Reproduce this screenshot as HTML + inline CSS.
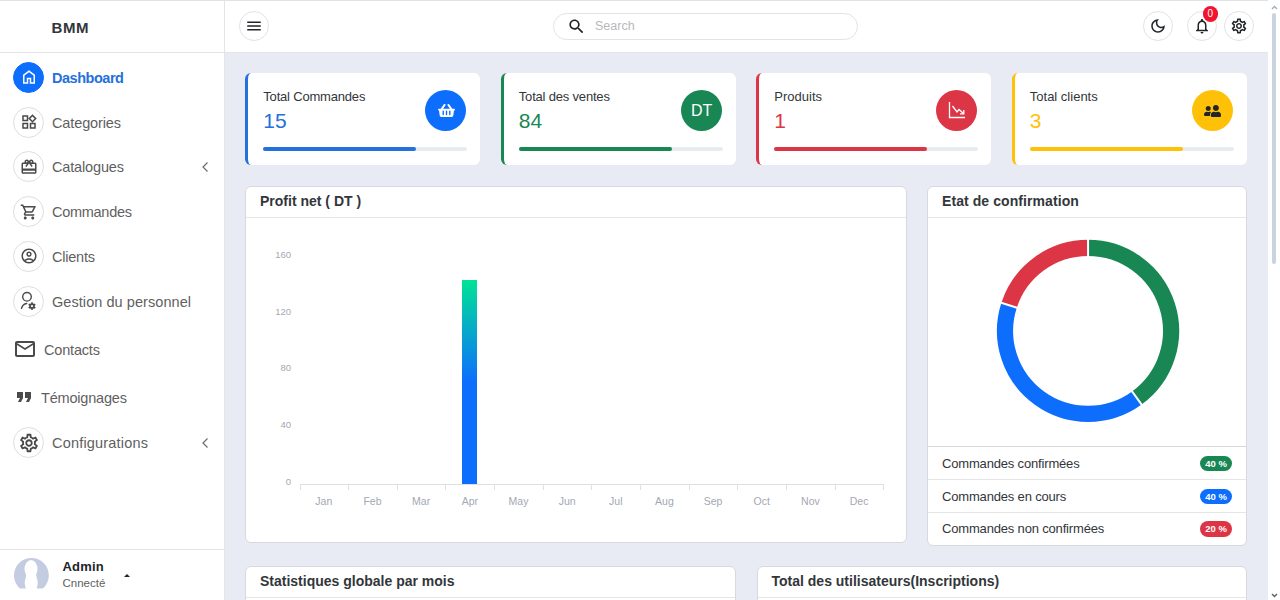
<!DOCTYPE html>
<html><head><meta charset="utf-8">
<style>
*{box-sizing:border-box;margin:0;padding:0}
html,body{width:1280px;height:600px;overflow:hidden;background:#e8ebf3;font-family:"Liberation Sans",sans-serif;color:#212529}
body{position:relative}
.abs{position:absolute}
#side{left:0;top:0;width:225px;height:600px;background:#fff;border-right:1px solid #e4e4e4}
#brand{left:0;top:0;width:224px;height:53px;border-bottom:1px solid #e4e4e4}
#brand span{position:absolute;left:51.5px;top:18.5px;font-size:15px;font-weight:700;color:#32363a;letter-spacing:0.6px}
.mi{position:absolute;left:13px;width:31px;height:31px;border-radius:50%;border:1px solid #dedede;background:#fff}
.mi svg{position:absolute;left:5.5px;top:5.5px;width:18px;height:18px;fill:#4a4a4a}
.mi.act{background:#0d6efd;border-color:#0d6efd}
.mi.act svg{fill:#fff}
.ml{position:absolute;left:52px;font-size:14.5px;color:#5f5f5f;letter-spacing:0;white-space:nowrap}
.ml.act{color:#2470dc;font-weight:700}
#top{left:225px;top:0;width:1043px;height:53px;background:#fff;border-bottom:1px solid #e4e4e4}
.rb{position:absolute;width:30px;height:30px;border-radius:50%;border:1px solid #e2e2e2;background:#fff}
.rb svg{position:absolute;left:5px;top:5px;width:17px;height:17px;fill:#212529}
.card{position:absolute;background:#fff;border-radius:6px}
.ct{position:absolute;left:17px;top:16px;font-size:13px;color:#32363a}
.cv{position:absolute;left:17px;top:36px;font-size:21px}
.pb{position:absolute;left:17px;top:74px;width:204px;height:4px;border-radius:2px;background:#e9ecef}
.pb i{display:block;width:153px;height:4px;border-radius:2px}
.ic{position:absolute;left:179px;top:17px;width:41.400px;height:41.400px;border-radius:50%}
.pan{position:absolute;background:#fff;border:1px solid #d6d9df;border-radius:6px}
.ph{position:absolute;left:14px;top:5.800px;font-size:14px;font-weight:700;color:#32363a;white-space:nowrap}
.hl{position:absolute;left:0;right:0;height:1px;background:#e6e6e6}
.yl{position:absolute;font-size:9.500px;color:#a3a8b3;text-align:right;width:30px}
.xl{position:absolute;font-size:10.500px;color:#a3a8b3;text-align:center;width:40px;top:309px}
.row{position:absolute;left:14.500px;font-size:13px;color:#32363a;letter-spacing:-0.170px;white-space:nowrap}
.bd{position:absolute;left:272.400px;width:32.400px;height:15.500px;border-radius:8px;color:#fff;font-size:9.500px;font-weight:700;text-align:center;line-height:15.500px}
</style></head><body>

<div id="side" class="abs"></div>
<div id="brand" class="abs"><span>BMM</span></div>
<!--SIDE-->
<div class="mi act" style="top:61.75px"><svg viewBox="0 0 24 24"><path d="M6 19h3v-6h6v6h3v-9l-6-4.5L6 10Zm-2 2V9l8-6 8 6v12h-7v-6h-2v6Z"/></svg></div><div class="ml act" id="l_home" style="letter-spacing:-0.47px;top:69.75px">Dashboard</div>
<div class="mi" style="top:106.5px"><svg viewBox="0 0 24 24"><path d="M16.66 4.52l2.83 2.83-2.83 2.83-2.83-2.83 2.83-2.83M9 5v4H5V5h4m10 10v4h-4v-4h4M9 15v4H5v-4h4m7.66-13.31L11 7.34 16.66 13l5.66-5.66-5.66-5.65zM11 3H3v8h8V3zm10 10h-8v8h8v-8zm-10 0H3v8h8v-8z"/></svg></div><div class="ml" id="l_widgets" style="letter-spacing:-0.12px;top:114.5px">Categories</div>
<div class="mi" style="top:151.25px"><svg viewBox="0 0 24 24"><path d="M20 6h-2.18c.11-.31.18-.65.18-1 0-1.66-1.34-3-3-3-1.05 0-1.96.54-2.5 1.35l-.5.67-.5-.68C10.96 2.54 10.05 2 9 2 7.34 2 6 3.34 6 5c0 .35.07.69.18 1H4c-1.11 0-1.99.89-1.99 2L2 19c0 1.11.89 2 2 2h16c1.11 0 2-.89 2-2V8c0-1.11-.89-2-2-2zm-5-2c.55 0 1 .45 1 1s-.45 1-1 1-1-.45-1-1 .45-1 1-1zM9 4c.55 0 1 .45 1 1s-.45 1-1 1-1-.45-1-1 .45-1 1-1zm11 15H4v-2h16v2zm0-5H4V8h5.08L7 10.83 8.62 12 11 8.76l1-1.36 1 1.36L15.38 12 17 10.83 14.92 8H20v6z"/></svg></div><div class="ml" id="l_gift" style="letter-spacing:-0.15px;top:159.25px">Catalogues</div>
<div class="mi" style="top:196.0px"><svg viewBox="0 0 24 24"><path d="M15.55 13c.75 0 1.41-.41 1.75-1.03l3.58-6.49c.37-.66-.11-1.48-.87-1.48H5.21l-.94-2H1v2h2l3.6 7.59-1.35 2.44C4.52 15.37 5.48 17 7 17h12v-2H7l1.1-2h7.45zM6.16 6h12.15l-2.76 5H8.53L6.16 6zM7 18c-1.1 0-1.99.9-1.99 2S5.9 22 7 22s2-.9 2-2-.9-2-2-2zm10 0c-1.1 0-1.99.9-1.99 2s.89 2 1.99 2 2-.9 2-2-.9-2-2-2z"/></svg></div><div class="ml" id="l_cart" style="letter-spacing:-0.28px;top:204.0px">Commandes</div>
<div class="mi" style="top:240.75px"><svg viewBox="0 0 24 24"><path d="M12 2C6.48 2 2 6.48 2 12s4.48 10 10 10 10-4.48 10-10S17.52 2 12 2zM7.35 18.5C8.66 17.56 10.26 17 12 17s3.34.56 4.650 1.5C15.34 19.44 13.74 20 12 20s-3.34-.56-4.65-1.5zm10.79-1.380C16.45 15.8 14.32 15 12 15s-4.45.8-6.14 2.12C4.7 15.73 4 13.95 4 12c0-4.42 3.58-8 8-8s8 3.58 8 8c0 1.950-.7 3.73-1.86 5.120zM12 6c-1.93 0-3.5 1.57-3.5 3.5S10.07 13 12 13s3.5-1.57 3.5-3.5S13.93 6 12 6zm0 5c-.83 0-1.5-.67-1.5-1.5S11.17 8 12 8s1.500.67 1.5 1.5S12.83 11 12 11z"/></svg></div><div class="ml" id="l_acct" style="letter-spacing:-0.22px;top:248.75px">Clients</div>
<div class="mi" style="top:285.5px"><svg viewBox="0 0 29 29" style="left:0;top:0;width:29px;height:29px"><circle cx="13" cy="9.800" r="4.300" fill="none" stroke="#4a4a4a" stroke-width="1.400"/><path d="M12.700 16.500 Q8.600 17 7.500 21.400" fill="none" stroke="#4a4a4a" stroke-width="1.400" stroke-linecap="round"/><g transform="translate(18,19.100)" fill="#4a4a4a"><circle r="2" fill="none" stroke="#4a4a4a" stroke-width="1.700"/><rect x="-0.850" y="-3.800" width="1.700" height="1.600" transform="rotate(0)"/><rect x="-0.850" y="-3.800" width="1.700" height="1.600" transform="rotate(60)"/><rect x="-0.850" y="-3.800" width="1.700" height="1.600" transform="rotate(120)"/><rect x="-0.850" y="-3.800" width="1.700" height="1.600" transform="rotate(180)"/><rect x="-0.850" y="-3.800" width="1.700" height="1.600" transform="rotate(240)"/><rect x="-0.850" y="-3.800" width="1.700" height="1.600" transform="rotate(300)"/></g></svg></div><div class="ml" id="l_manage" style="letter-spacing:0.06px;top:293.5px">Gestion du personnel</div>
<div class="mi" style="top:427.0px"><svg viewBox="0 0 24 24" style="left:3.500px;top:3.500px;width:22px;height:22px"><path d="M19.43 12.98c.04-.32.07-.64.07-.98 0-.34-.03-.66-.07-.98l2.110-1.650c.19-.15.24-.42.12-.64l-2-3.460c-.09-.16-.26-.25-.44-.25-.06 0-.12.01-.17.03l-2.490 1c-.52-.4-1.080-.73-1.690-.98l-.38-2.650C14.460 2.180 14.250 2 14 2h-4c-.25 0-.46.18-.49.42l-.38 2.650c-.61.25-1.170.59-1.690.98l-2.490-1c-.06-.02-.12-.03-.18-.03-.17 0-.34.09-.43.25l-2 3.460c-.13.22-.07.49.12.64l2.110 1.650c-.04.32-.07.65-.07.98 0 .33.03.66.07.98l-2.110 1.650c-.19.15-.24.42-.12.64l2 3.460c.09.16.26.25.44.25.06 0 .12-.01.17-.03l2.490-1c.52.4 1.080.73 1.690.98l.38 2.650c.03.24.24.42.49.42h4c.25 0 .46-.18.49-.42l.38-2.650c.61-.25 1.170-.59 1.690-.98l2.490 1c.06.02.12.03.18.03.17 0 .34-.09.43-.25l2-3.460c.12-.22.07-.49-.12-.64l-2.110-1.650zm-1.980-1.710c.04.31.05.52.05.73 0 .21-.02.43-.05.73l-.14 1.130.89.7 1.080.84-.7 1.210-1.270-.51-1.040-.42-.9.68c-.43.32-.84.56-1.250.73l-1.060.43-.16 1.130-.2 1.350h-1.400l-.19-1.350-.16-1.130-1.060-.43c-.43-.18-.83-.41-1.230-.71l-.91-.7-1.060.43-1.270.51-.7-1.210 1.080-.84.89-.7-.14-1.130c-.03-.31-.05-.54-.05-.74s.02-.43.05-.73l.14-1.130-.89-.7-1.080-.84.7-1.210 1.270.51 1.040.42.9-.68c.43-.32.84-.56 1.250-.73l1.060-.43.16-1.130.2-1.350h1.390l.19 1.350.16 1.130 1.060.43c.43.18.83.41 1.230.71l.91.7 1.060-.43 1.270-.51.7 1.210-1.070.85-.89.7.14 1.130zM12 8c-2.210 0-4 1.790-4 4s1.790 4 4 4 4-1.790 4-4-1.790-4-4-4zm0 6c-1.100 0-2-.9-2-2s.9-2 2-2 2 .9 2 2-.9 2-2 2z"/></svg></div><div class="ml" id="l_gear" style="letter-spacing:0.19px;top:435.0px">Configurations</div>
<svg class="abs" style="left:13px;top:337px;width:24px;height:24px;fill:#4a4a4a" viewBox="0 0 24 24"><path d="M20 4H4c-1.1 0-1.990.9-1.990 2L2 18c0 1.100.9 2 2 2h16c1.1 0 2-.9 2-2V6c0-1.100-.9-2-2-2zm0 14H4V8l8 5 8-5v10zm-8-7L4 6h16l-8 5z"/></svg><div class="ml" id="l_mail" style="letter-spacing:-0.18px;left:44px;top:341.5px">Contacts</div>
<svg class="abs" style="left:12px;top:385px;width:24px;height:24px;fill:#4a4a4a" viewBox="0 0 24 24"><path d="M6 17h3l2-4V7H5v6h3zm8 0h3l2-4V7h-6v6h3z"/></svg><div class="ml" id="l_quote" style="letter-spacing:-0.19px;left:41px;top:389.5px">Témoignages</div>
<svg class="abs" style="left:201px;top:160.75px;width:8px;height:12px" viewBox="0 0 8 12"><path d="M6.5 1.5 L2 6 L6.500 10.500" fill="none" stroke="#6c6c6c" stroke-width="1.200"/></svg>
<svg class="abs" style="left:201px;top:436.5px;width:8px;height:12px" viewBox="0 0 8 12"><path d="M6.5 1.5 L2 6 L6.500 10.500" fill="none" stroke="#6c6c6c" stroke-width="1.200"/></svg>
<div class="abs" style="left:0;top:549px;width:224px;height:1px;background:#e4e4e4"></div>
<svg class="abs" style="left:14px;top:558px;width:35px;height:35px" viewBox="0 0 35 35"><circle cx="17.400" cy="17.400" r="17.400" fill="#c3cce0"/><ellipse cx="17" cy="11" rx="6.500" ry="9" fill="#fff"/><path d="M12.500 14 C12.500 20 10 22 11 27 C11.500 29 12 30 12 35 H22.500 C22.500 30 23 29 23.500 27 C24.500 22 22 20 22 14Z" fill="#fff"/><rect x="0" y="30.500" width="35" height="5" fill="#fff"/></svg>
<div class="abs" style="left:62.500px;top:559.400px;font-size:13px;font-weight:700;color:#212529;letter-spacing:0.200px">Admin</div>
<div class="abs" style="left:62.500px;top:577px;font-size:11.500px;color:#5f5f5f">Cnnecté</div>
<div class="abs" style="left:123.800px;top:574px;width:0;height:0;border-left:3.200px solid transparent;border-right:3.200px solid transparent;border-bottom:3.200px solid #212529"></div>
<!--/SIDE-->
<div id="top" class="abs"></div>
<!--TOP-->
<div class="abs" style="left:0;top:0;width:1280px;height:1px;background:#dfe3e8"></div>
<div class="rb" style="left:238.5px;top:11px"><svg style="left:5px;top:5px;width:18px;height:18px" viewBox="0 0 24 24"><path d="M3 18h18v-2H3v2zm0-5h18v-2H3v2zm0-7v2h18V6H3z"/></svg></div>
<div class="abs" style="left:553px;top:13px;width:305px;height:27px;border:1px solid #e3e3e3;border-radius:14px;background:#fff"></div>
<svg class="abs" style="left:567px;top:16.500px;width:19px;height:19px;fill:#212529" viewBox="0 0 24 24"><path d="M15.5 14h-.79l-.28-.27C15.41 12.59 16 11.11 16 9.5 16 5.91 13.09 3 9.5 3S3 5.91 3 9.5 5.91 16 9.5 16c1.61 0 3.09-.59 4.23-1.570l.27.28v.79l5 4.990L20.49 19l-4.990-5zm-6 0C7.01 14 5 11.99 5 9.5S7.01 5 9.5 5 14 7.01 14 9.5 11.99 14 9.5 14z"/></svg>
<div class="abs" style="left:595px;top:19px;font-size:12.500px;color:#b6b8bc">Search</div>
<div class="rb" style="left:1142.5px;top:11px"><svg style="left:5px;top:5px;width:18px;height:18px" viewBox="0 0 24 24"><path d="M9.37 5.51c-.18.64-.27 1.31-.27 1.99 0 4.08 3.32 7.4 7.4 7.4.68 0 1.35-.09 1.99-.27C17.45 17.19 14.93 19 12 19c-3.86 0-7-3.14-7-7 0-2.93 1.81-5.45 4.37-6.49zM12 3c-4.97 0-9 4.03-9 9s4.030 9 9 9 9-4.03 9-9c0-.46-.04-.92-.1-1.360-.98 1.370-2.580 2.260-4.400 2.260-2.980 0-5.400-2.420-5.400-5.400 0-1.810.89-3.420 2.260-4.400-.44-.06-.9-.1-1.360-.1z"/></svg></div>
<div class="rb" style="left:1186.5px;top:11px"><svg style="left:5px;top:5px;width:18px;height:18px" viewBox="0 0 24 24"><path d="M12 22c1.1 0 2-.9 2-2h-4c0 1.100.9 2 2 2zm6-6v-5c0-3.070-1.630-5.640-4.500-6.320V4c0-.83-.67-1.500-1.500-1.500s-1.500.67-1.500 1.500v.68C7.640 5.360 6 7.920 6 11v5l-2 2v1h16v-1l-2-2zm-2 1H8v-6c0-2.480 1.510-4.500 4-4.500s4 2.020 4 4.500v6z"/></svg></div>
<div class="rb" style="left:1223.5px;top:11px"><svg style="left:5px;top:5px;width:18px;height:18px" viewBox="0 0 24 24"><path d="M19.43 12.98c.04-.32.07-.64.07-.98 0-.34-.03-.66-.07-.98l2.110-1.650c.19-.15.24-.42.12-.64l-2-3.460c-.09-.16-.26-.25-.44-.25-.06 0-.12.01-.17.03l-2.490 1c-.52-.4-1.080-.73-1.690-.98l-.38-2.650C14.460 2.180 14.250 2 14 2h-4c-.25 0-.46.18-.49.42l-.38 2.650c-.61.25-1.170.59-1.690.98l-2.490-1c-.06-.02-.12-.03-.18-.03-.17 0-.34.09-.43.25l-2 3.460c-.13.22-.07.49.12.64l2.110 1.650c-.04.32-.07.65-.07.98 0 .33.03.66.07.98l-2.110 1.650c-.19.15-.24.42-.12.64l2 3.460c.09.16.26.25.44.25.06 0 .12-.01.17-.03l2.490-1c.52.4 1.080.73 1.690.98l.38 2.650c.03.24.24.42.49.42h4c.25 0 .46-.18.49-.42l.38-2.650c.61-.25 1.170-.59 1.690-.98l2.490 1c.06.02.12.03.18.03.17 0 .34-.09.43-.25l2-3.460c.12-.22.07-.49-.12-.64l-2.110-1.650zm-1.980-1.710c.04.31.05.52.05.73 0 .21-.02.43-.05.73l-.14 1.130.89.7 1.080.84-.7 1.210-1.270-.51-1.040-.42-.9.68c-.43.32-.84.56-1.250.73l-1.060.43-.16 1.130-.2 1.350h-1.400l-.19-1.350-.16-1.130-1.060-.43c-.43-.18-.83-.41-1.230-.71l-.91-.7-1.060.43-1.270.51-.7-1.210 1.080-.84.89-.7-.14-1.130c-.03-.31-.05-.54-.05-.74s.02-.43.05-.73l.14-1.130-.89-.7-1.080-.84.7-1.210 1.270.51 1.040.42.9-.68c.43-.32.84-.56 1.250-.73l1.060-.43.16-1.130.2-1.350h1.390l.19 1.350.16 1.130 1.060.43c.43.18.83.41 1.230.71l.91.7 1.060-.43 1.270-.51.7 1.210-1.070.85-.89.7.14 1.130zM12 8c-2.210 0-4 1.790-4 4s1.790 4 4 4 4-1.790 4-4-1.790-4-4-4zm0 6c-1.100 0-2-.9-2-2s.9-2 2-2 2 .9 2 2-.9 2-2 2z"/></svg></div>
<div class="abs" style="left:1202.500px;top:6px;width:15.500px;height:15.500px;border-radius:50%;background:#f0142f;color:#fff;font-size:10px;text-align:center;line-height:15.500px">0</div>
<div class="abs" style="left:1268px;top:0;width:12px;height:600px;background:#fff"></div>
<div class="abs" style="left:1272px;top:13px;width:4px;height:251px;border-radius:2px;background:#c9d4e0"></div>
<svg class="abs" style="left:1271px;top:4.500px;width:7px;height:5px" viewBox="0 0 7 5"><path d="M1 4 L3.500 1.500 L6 4" fill="none" stroke="#a3abb5" stroke-width="1.300"/></svg>
<svg class="abs" style="left:1271px;top:592.500px;width:7px;height:5px" viewBox="0 0 7 5"><path d="M1 1 L3.500 3.500 L6 1" fill="none" stroke="#5a6169" stroke-width="1.400"/></svg>
<!--/TOP-->
<!--MAIN-->
<!--CARDS-->
<div class="card" style="left:245.3px;top:73px;width:235px;height:92px;border-left:3px solid #2470dc"><div class="ct" style="left:15px;letter-spacing:-0.190px">Total Commandes</div><div class="cv" style="left:15px;color:#2470dc">15</div><div class="pb" style="left:15px"><i style="background:#2470dc"></i></div><div class="ic" style="left:176.800px;background:#0d6efd"><svg class="abs" style="left:12.500px;top:13px;width:17px;height:15px;fill:#fff" viewBox="0 0 576 512"><path d="M576 216v16c0 13.255-10.745 24-24 24h-8l-26.113 182.788C514.509 462.435 494.257 480 470.37 480H105.630c-23.887 0-44.139-17.565-47.518-41.212L32 256h-8c-13.255 0-24-10.745-24-24v-16c0-13.255 10.745-24 24-24h67.341l106.780-146.821c10.395-14.292 30.407-17.453 44.701-7.058 14.293 10.395 17.453 30.408 7.058 44.701L170.477 192h235.046L326.120 82.821c-10.395-14.292-7.234-34.306 7.059-44.701 14.291-10.395 34.306-7.235 44.701 7.058L484.659 192H552c13.255 0 24 10.745 24 24zM312 392V280c0-13.255-10.745-24-24-24s-24 10.745-24 24v112c0 13.255 10.745 24 24 24s24-10.745 24-24zm112 0V280c0-13.255-10.745-24-24-24s-24 10.745-24 24v112c0 13.255 10.745 24 24 24s24-10.745 24-24zm-224 0V280c0-13.255-10.745-24-24-24s-24 10.745-24 24v112c0 13.255 10.745 24 24 24s24-10.745 24-24z"/></svg></div></div>
<div class="card" style="left:500.8px;top:73px;width:235px;height:92px;border-left:3px solid #198754"><div class="ct" style="left:15px;letter-spacing:-0.190px">Total des ventes</div><div class="cv" style="left:15px;color:#198754">84</div><div class="pb" style="left:15px"><i style="background:#198754"></i></div><div class="ic" style="left:176.800px;background:#198754"><div class="abs" style="left:0;top:0;width:42px;height:42px;line-height:42px;text-align:center;color:#fff;font-size:16px">DT</div></div></div>
<div class="card" style="left:756.3px;top:73px;width:235px;height:92px;border-left:3px solid #dc3545"><div class="ct" style="left:15px">Produits</div><div class="cv" style="left:15px;color:#dc3545">1</div><div class="pb" style="left:15px"><i style="background:#dc3545"></i></div><div class="ic" style="left:176.800px;background:#dc3545"><svg class="abs" style="left:11.500px;top:11.300px;width:18px;height:18px" viewBox="0 0 18 18"><path d="M1.500 1 V16.500 H17" fill="none" stroke="#fff" stroke-width="1.300"/><path d="M4.500 5 L9 11 L11 8.500 L15.500 12.500" fill="none" stroke="#fff" stroke-width="1.300"/><path d="M12 12.800 H15.800 V9" fill="none" stroke="#fff" stroke-width="1.300"/></svg></div></div>
<div class="card" style="left:1011.8px;top:73px;width:235px;height:92px;border-left:3px solid #ffc107"><div class="ct" style="left:15px">Total clients</div><div class="cv" style="left:15px;color:#ffc107">3</div><div class="pb" style="left:15px"><i style="background:#ffc107"></i></div><div class="ic" style="left:176.800px;background:#ffc107"><svg class="abs" style="left:12.500px;top:13.500px;width:17px;height:14px;fill:#212529" viewBox="0 0 640 512"><path transform="translate(640,0) scale(-1,1)" d="M192 256c61.900 0 112-50.100 112-112S253.900 32 192 32 80 82.100 80 144s50.100 112 112 112zm76.800 32h-8.300c-20.800 10-43.900 16-68.500 16s-47.600-6-68.500-16h-8.300C51.600 288 0 339.600 0 403.200V432c0 26.500 21.500 48 48 48h288c26.500 0 48-21.500 48-48v-28.800c0-63.600-51.600-115.200-115.200-115.200zM480 256c53 0 96-43 96-96s-43-96-96-96-96 43-96 96 43 96 96 96zm48 32h-3.800c-13.900 4.800-28.600 8-44.200 8s-30.300-3.200-44.200-8H432c-20.400 0-39.200 5.900-55.700 15.400 24.400 26.300 39.700 61.200 39.700 99.800v38.400c0 2.200-.5 4.300-.6 6.400H592c26.500 0 48-21.500 48-48 0-61.900-50.100-112-112-112z"/></svg></div></div>
<!--/CARDS-->
<!--PANELS-->
<div class="pan" style="left:245px;top:186px;width:661.500px;height:356.500px"><div class="ph">Profit net ( DT )</div><div class="hl" style="top:30px"></div></div>
<div class="yl" style="left:261px;top:248.8px">160</div>
<div class="yl" style="left:261px;top:305.6px">120</div>
<div class="yl" style="left:261px;top:362.3px">80</div>
<div class="yl" style="left:261px;top:419.1px">40</div>
<div class="yl" style="left:261px;top:475.8px">0</div>
<div class="abs" style="left:299.5px;top:484px;width:584.92px;height:1px;background:#e0e0e0"></div>
<div class="abs" style="left:299.5px;top:484px;width:1px;height:6px;background:#e0e0e0"></div>
<div class="abs" style="left:348.15999999999997px;top:484px;width:1px;height:6px;background:#e0e0e0"></div>
<div class="abs" style="left:396.82px;top:484px;width:1px;height:6px;background:#e0e0e0"></div>
<div class="abs" style="left:445.48px;top:484px;width:1px;height:6px;background:#e0e0e0"></div>
<div class="abs" style="left:494.14px;top:484px;width:1px;height:6px;background:#e0e0e0"></div>
<div class="abs" style="left:542.8px;top:484px;width:1px;height:6px;background:#e0e0e0"></div>
<div class="abs" style="left:591.46px;top:484px;width:1px;height:6px;background:#e0e0e0"></div>
<div class="abs" style="left:640.12px;top:484px;width:1px;height:6px;background:#e0e0e0"></div>
<div class="abs" style="left:688.78px;top:484px;width:1px;height:6px;background:#e0e0e0"></div>
<div class="abs" style="left:737.4399999999999px;top:484px;width:1px;height:6px;background:#e0e0e0"></div>
<div class="abs" style="left:786.0999999999999px;top:484px;width:1px;height:6px;background:#e0e0e0"></div>
<div class="abs" style="left:834.76px;top:484px;width:1px;height:6px;background:#e0e0e0"></div>
<div class="abs" style="left:883.42px;top:484px;width:1px;height:6px;background:#e0e0e0"></div>
<div class="xl" style="left:303.83px;top:494.500px">Jan</div>
<div class="xl" style="left:352.49px;top:494.500px">Feb</div>
<div class="xl" style="left:401.15px;top:494.500px">Mar</div>
<div class="xl" style="left:449.81px;top:494.500px">Apr</div>
<div class="xl" style="left:498.47px;top:494.500px">May</div>
<div class="xl" style="left:547.13px;top:494.500px">Jun</div>
<div class="xl" style="left:595.79px;top:494.500px">Jul</div>
<div class="xl" style="left:644.45px;top:494.500px">Aug</div>
<div class="xl" style="left:693.1099999999999px;top:494.500px">Sep</div>
<div class="xl" style="left:741.77px;top:494.500px">Oct</div>
<div class="xl" style="left:790.43px;top:494.500px">Nov</div>
<div class="xl" style="left:839.0899999999999px;top:494.500px">Dec</div>
<div class="abs" style="left:462.300px;top:279.700px;width:14.700px;height:204.300px;background:linear-gradient(#00e396 0%,#0d6efd 50%,#0d6efd 100%)"></div>
<div class="pan" style="left:926.500px;top:186px;width:320px;height:359.800px"><div class="ph" style="left:14.500px;letter-spacing:0.080px">Etat de confirmation</div><div class="hl" style="top:30px"></div><div class="hl" style="top:259.300px;background:#d5d8dc"></div><div class="hl" style="top:292px"></div><div class="hl" style="top:325.200px"></div><div class="row" style="top:268.8px">Commandes confirmées</div><div class="bd" style="top:268.7px;background:#198754">40 %</div><div class="row" style="top:301.6px">Commandes en cours</div><div class="bd" style="top:301.5px;background:#0d6efd">40 %</div><div class="row" style="top:334.1px">Commandes non confirmées</div><div class="bd" style="top:334px;background:#dc3545">20 %</div></div>
<svg class="abs" style="left:0;top:0;width:1280px;height:600px;pointer-events:none" viewBox="0 0 1280 600"><path d="M1088.05 247.90 A83.00 83.00 0 0 1 1136.84 398.05" fill="none" stroke="#198754" stroke-width="16.20"/><path d="M1136.84 398.05 A83.00 83.00 0 0 1 1009.11 305.25" fill="none" stroke="#0d6efd" stroke-width="16.20"/><path d="M1009.11 305.25 A83.00 83.00 0 0 1 1088.05 247.90" fill="none" stroke="#dc3545" stroke-width="16.20"/><line x1="1088.05" y1="257.00" x2="1088.05" y2="238.80" stroke="#fff" stroke-width="2"/><line x1="1131.49" y1="390.69" x2="1142.19" y2="405.41" stroke="#fff" stroke-width="2"/><line x1="1017.77" y1="308.06" x2="1000.46" y2="302.44" stroke="#fff" stroke-width="2"/></svg>
<div class="pan" style="left:245px;top:565.800px;width:490.500px;height:60px"><div class="ph">Statistiques globale par mois</div><div class="hl" style="top:30px"></div></div>
<div class="pan" style="left:756.500px;top:565.800px;width:490px;height:60px"><div class="ph">Total des utilisateurs(Inscriptions)</div><div class="hl" style="top:30px"></div></div>
<!--/PANELS-->
<!--/MAIN-->

</body></html>
